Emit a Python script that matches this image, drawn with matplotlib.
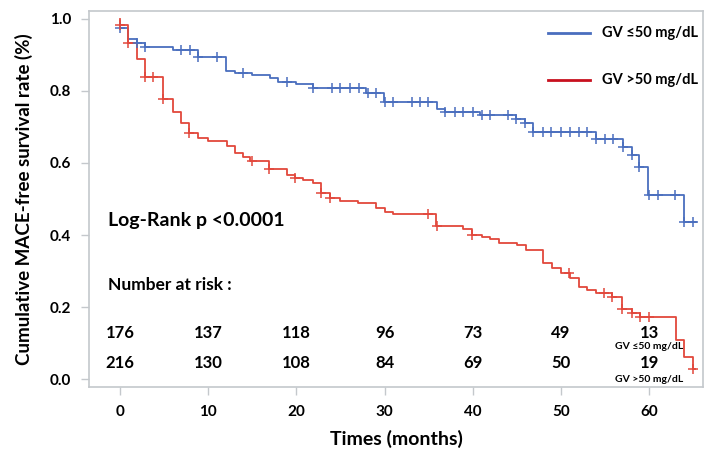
import numpy as np
import matplotlib
matplotlib.use("Agg")
import matplotlib.pyplot as plt

plt.rcParams['font.family'] = ['Lato', 'DejaVu Sans']
plt.rcParams['font.weight'] = 'bold'

# ---- data ----
low_times = [0, 0.9, 1.9, 2.8, 6.0, 8.8, 12, 13, 15, 17, 17.9, 20, 21.9, 27.9, 29.9,
             35.9, 36.8, 40.8, 44.9, 45.9, 46.8, 54, 57, 58, 58.9, 59.9, 63.9]
low_surv = [0.975, 0.944, 0.933, 0.922, 0.914, 0.894, 0.856, 0.850, 0.844, 0.836, 0.825,
            0.819, 0.808, 0.794, 0.769, 0.750, 0.742, 0.733, 0.722, 0.711, 0.686, 0.667,
            0.644, 0.622, 0.589, 0.511, 0.436]
low_end = 65.3
low_censor = [0, 1.9, 2.8, 6.9, 7.9, 8.8, 11, 14, 18.9, 21.9, 24, 25, 26.1, 27.1, 28.1, 29,
              30, 31, 33.1, 34, 34.9, 36.8, 38, 38.9, 40, 41, 42, 44, 44.9, 45.9, 46.8, 48,
              48.9, 50, 51, 52, 53, 54, 55, 55.9, 57, 58, 58.9, 60, 61, 62.9, 63.9, 65]

high_times = [0, 0.9, 1.9, 2.8, 4.9, 6.0, 6.9, 7.8, 8.8, 10, 12.1, 13, 14, 14.7, 16.9,
              18.9, 19.8, 20.8, 21.9, 22.8, 23.8, 24.9, 27, 29, 30, 31, 35.8, 38.9, 39.9,
              41, 42, 43, 45, 46, 48, 49, 50, 51, 52, 53, 54, 55.8, 56.9, 58, 59, 63, 64, 65]
high_surv = [0.983, 0.933, 0.889, 0.839, 0.778, 0.742, 0.711, 0.683, 0.669, 0.661, 0.647,
             0.628, 0.617, 0.606, 0.583, 0.567, 0.558, 0.553, 0.544, 0.517, 0.503, 0.494,
             0.489, 0.475, 0.464, 0.458, 0.425, 0.417, 0.400, 0.394, 0.389, 0.378, 0.372,
             0.358, 0.322, 0.308, 0.294, 0.281, 0.256, 0.247, 0.239, 0.228, 0.194, 0.183,
             0.172, 0.108, 0.061, 0.028]
high_end = 65.2
high_censor = [0, 0.9, 2.8, 3.7, 4.9, 7.8, 15, 16.9, 19.8, 22.8, 23.8, 34.9, 36, 39.9,
               50.9, 54.9, 55.8, 56.9, 58, 59, 60, 65]

risk_times = [0, 10, 20, 30, 40, 50, 60]
risk_low = [176, 137, 118, 96, 73, 49, 13]
risk_high = [216, 130, 108, 84, 69, 50, 19]

label_low = "GV \u226450 mg/dL"
label_high = "GV >50 mg/dL"

blue = '#4A6EBE'
red = '#E2483C'
red_leg = '#C8101E'
grid_gray = '#C4C8CC'

fig = plt.figure(figsize=(7.12, 4.58), dpi=100)
ax = fig.add_axes([89/712, 1-387/458, (703-89)/712, (387-11)/458])


def draw_km(times, surv, end, censor, color, start=1.0):
    xs = [0] + list(times) + [end]
    ys = [start] + list(surv) + [surv[-1]]
    ax.step(xs, ys, where='post', color=color, lw=1.3, zorder=3)
    t = np.asarray(times)
    s = np.asarray(surv)
    cy = []
    for c in censor:
        i = np.searchsorted(t, c, side='right') - 1
        cy.append(s[i] if i >= 0 else start)
    ax.plot(censor, cy, linestyle='none', marker='+', ms=6.5, mew=1.1, color=color, zorder=4)


draw_km(low_times, low_surv, low_end, low_censor, blue, start=low_surv[0])
draw_km(high_times, high_surv, high_end, high_censor, red)

ax.set_xlim(-3.5, 66.1)
ax.set_ylim(-0.022, 1.022)
ax.set_xticks(risk_times)
ax.set_yticks([0.0, 0.2, 0.4, 0.6, 0.8, 1.0])
ax.set_yticklabels(['0.0', '0.2', '0.4', '0.6', '0.8', '1.0'])
ax.tick_params(axis='both', direction='out', length=6, width=1, color=grid_gray,
               labelsize=11, pad=7)
for lab in ax.get_xticklabels() + ax.get_yticklabels():
    lab.set_fontweight('bold')
for sp in ax.spines.values():
    sp.set_color(grid_gray)
    sp.set_linewidth(1.2)

ax.set_ylabel('Cumulative MACE-free survival rate (%)', fontsize=13.5, fontweight='bold', labelpad=12)
ax.set_xlabel('Times (months)', fontsize=14, fontweight='bold', labelpad=8)

ax.text(-1.4, 0.44, 'Log-Rank p <0.0001', fontsize=14, fontweight='bold', va='center', ha='left')
ax.text(-1.4, 0.262, 'Number at risk :', fontsize=12.5, fontweight='bold', va='center', ha='left')

for t, n1, n2 in zip(risk_times, risk_low, risk_high):
    ax.text(t, 0.128, str(n1), fontsize=12, fontweight='bold', ha='center', va='center')
    ax.text(t, 0.044, str(n2), fontsize=12, fontweight='bold', ha='center', va='center')
ax.text(risk_times[-1], 0.091, label_low, fontsize=7.5, fontweight='bold', ha='center', va='center')
ax.text(risk_times[-1], 0.0, label_high, fontsize=7.5, fontweight='bold', ha='center', va='center')

# legend
leg_x0, leg_x1, leg_tx = (548-89)/614, (590-89)/614, (602-89)/614
for yy, col, lab in [(1-(33-11)/376, blue, label_low), (1-(80-11)/376, red_leg, label_high)]:
    ax.plot([leg_x0, leg_x1], [yy, yy], transform=ax.transAxes, color=col, lw=2)
    ax.text(leg_tx, yy, lab, transform=ax.transAxes, fontsize=10.5, fontweight='bold',
            va='center', ha='left')

fig.savefig('out.png', dpi=100)
